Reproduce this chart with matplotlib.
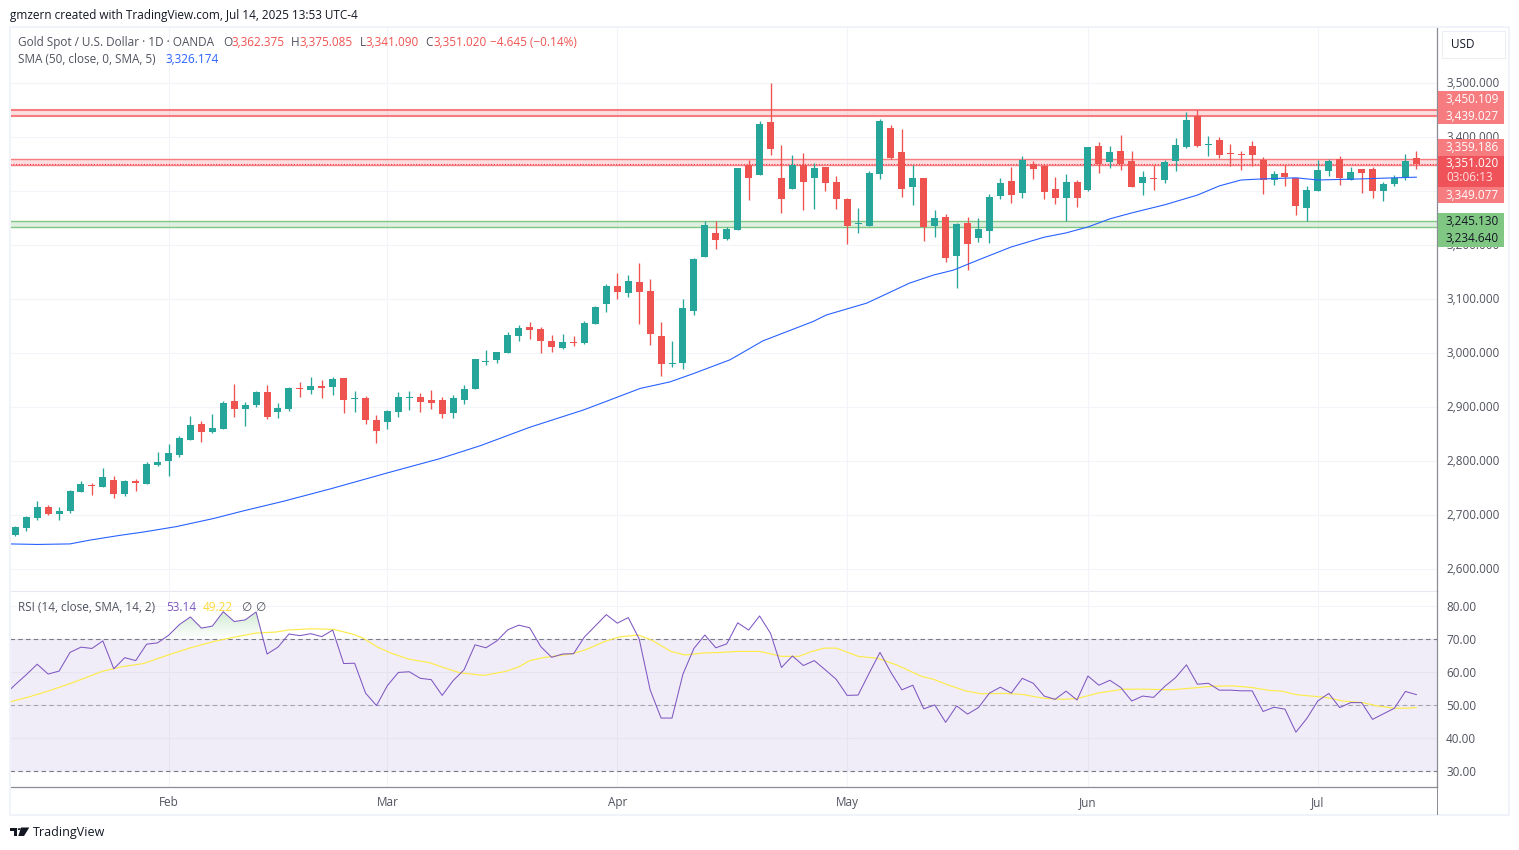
import numpy as np
import matplotlib
matplotlib.use('Agg')
import matplotlib.pyplot as plt
from matplotlib.patches import Rectangle, Polygon, Circle

opens = [2663, 2676, 2695, 2715, 2702, 2708, 2743, 2756, 2752, 2765,
         2739, 2763, 2758, 2793, 2800, 2812, 2839, 2869, 2854, 2860,
         2912, 2897, 2904, 2928, 2891, 2897, 2936, 2932, 2939, 2937,
         2954, 2915, 2917, 2876, 2873, 2891, 2917, 2919, 2913, 2913,
         2889, 2913, 2934, 2984, 2988, 3001, 3032, 3049, 3045, 3023,
         3010, 3021, 3019, 3054, 3091, 3125, 3112, 3132, 3115, 3032,
         2980, 2982, 3078, 3178, 3223, 3212, 3228, 3349, 3330, 3428,
         3325, 3304, 3349, 3325, 3345, 3317, 3286, 3240, 3236, 3332,
         3417, 3373, 3308, 3325, 3236, 3252, 3180, 3241, 3214, 3227,
         3291, 3319, 3297, 3351, 3347, 3304, 3288, 3317, 3302, 3384,
         3354, 3375, 3356, 3315, 3325, 3321, 3356, 3382, 3439, 3386,
         3395, 3371, 3369, 3384, 3358, 3321, 3334, 3325, 3269, 3301,
         3338, 3360, 3321, 3341, 3341, 3301, 3314, 3325, 3362.375]
highs = [2680, 2699, 2726, 2719, 2715, 2747, 2763, 2760, 2787, 2773,
         2765, 2767, 2799, 2817, 2832, 2847, 2884, 2875, 2887, 2912,
         2943, 2910, 2930, 2941, 2908, 2937, 2947, 2956, 2950, 2956,
         2954, 2930, 2921, 2886, 2895, 2928, 2930, 2926, 2932, 2919,
         2923, 2941, 2989, 3006, 3002, 3039, 3052, 3058, 3049, 3034,
         3036, 3032, 3060, 3088, 3128, 3149, 3145, 3167, 3138, 3058,
         3023, 3100, 3176, 3245, 3245, 3234, 3343, 3358, 3430, 3501,
         3386, 3367, 3371, 3352, 3345, 3328, 3288, 3269, 3338, 3434,
         3423, 3415, 3349, 3325, 3265, 3258, 3241, 3252, 3251, 3295,
         3325, 3345, 3365, 3356, 3349, 3327, 3332, 3321, 3382, 3391,
         3384, 3404, 3375, 3338, 3349, 3358, 3399, 3447, 3451, 3402,
         3401, 3388, 3375, 3393, 3364, 3338, 3349, 3325, 3310, 3358,
         3360, 3365, 3345, 3341, 3345, 3317, 3330, 3369, 3375.085]
lows = [2662, 2671, 2691, 2700, 2691, 2704, 2743, 2737, 2752, 2732,
        2736, 2745, 2758, 2791, 2773, 2808, 2839, 2836, 2852, 2860,
        2882, 2865, 2900, 2878, 2880, 2893, 2919, 2925, 2917, 2923,
        2889, 2891, 2869, 2834, 2860, 2882, 2895, 2891, 2897, 2880,
        2880, 2906, 2934, 2978, 2982, 3001, 3023, 3026, 3001, 3002,
        3008, 3013, 3017, 3054, 3076, 3100, 3104, 3054, 3015, 2958,
        2975, 2971, 3071, 3178, 3193, 3210, 3228, 3284, 3330, 3367,
        3260, 3304, 3265, 3267, 3301, 3267, 3202, 3223, 3236, 3323,
        3360, 3290, 3275, 3208, 3215, 3169, 3121, 3154, 3206, 3204,
        3286, 3278, 3288, 3323, 3286, 3277, 3245, 3271, 3301, 3334,
        3343, 3339, 3308, 3293, 3302, 3315, 3338, 3380, 3382, 3365,
        3362, 3347, 3339, 3347, 3295, 3312, 3310, 3256, 3245, 3301,
        3328, 3312, 3321, 3297, 3288, 3282, 3310, 3321, 3341.09]
closes = [2678, 2697, 2715, 2702, 2708, 2745, 2758, 2754, 2771, 2739,
          2763, 2760, 2795, 2799, 2815, 2843, 2867, 2854, 2862, 2908,
          2897, 2904, 2928, 2882, 2899, 2936, 2934, 2939, 2936, 2952,
          2913, 2917, 2876, 2856, 2893, 2919, 2919, 2910, 2908, 2888,
          2917, 2934, 2989, 2986, 3002, 3034, 3047, 3043, 3023, 3012,
          3021, 3019, 3056, 3086, 3125, 3113, 3134, 3113, 3036, 2980,
          2982, 3084, 3175, 3238, 3210, 3230, 3343, 3325, 3425, 3378,
          3286, 3349, 3317, 3343, 3315, 3286, 3236, 3241, 3334, 3430,
          3362, 3304, 3325, 3234, 3251, 3177, 3240, 3202, 3230, 3290,
          3315, 3293, 3358, 3341, 3299, 3288, 3317, 3288, 3382, 3351,
          3373, 3351, 3308, 3327, 3323, 3354, 3386, 3432, 3384, 3388,
          3367, 3369, 3367, 3367, 3321, 3332, 3327, 3273, 3302, 3339,
          3356, 3325, 3336, 3334, 3301, 3314, 3325, 3356, 3351.02]

sma_bar = [-0.5, 2, 5, 6.8, 9.6, 11.7, 14.7, 18.1, 20.8, 24.5, 28.8, 33.9, 38.8, 42.5, 47, 51.9,
           54.9, 57.1, 59.8, 61.9, 65.3, 68.3, 72.9, 74.1, 77.8, 81.7, 83.9, 85.7, 88, 91, 94, 96,
           98, 100, 102, 105, 108, 110, 112, 114, 117, 119, 123, 126, 128]
sma_val = [2647, 2646, 2647, 2654, 2663, 2669, 2679, 2694, 2708, 2726, 2749, 2778, 2805, 2829, 2863,
           2895, 2918, 2935, 2947, 2962, 2988, 3023, 3059, 3071, 3093, 3130, 3145, 3154, 3173, 3197,
           3215, 3223, 3234, 3249, 3260, 3275, 3293, 3310, 3321, 3323, 3325, 3321, 3323, 3325,
           3326.174]

# first value sits one bar left of the visible range
rsi_val = [53.0, 56.2, 59.2, 62.4, 59.4, 60.3, 66.0, 67.6, 67.2, 69.5,
           61.0, 64.4, 63.5, 68.5, 68.9, 71.2, 74.5, 76.8, 73.4, 74.0,
           78.4, 75.4, 75.9, 78.3, 65.5, 67.6, 71.6, 71.1, 71.7, 70.8,
           72.8, 62.6, 62.7, 53.6, 49.8, 55.9, 59.9, 60.1, 58.1, 57.7,
           52.9, 57.4, 60.7, 68.3, 67.4, 69.5, 72.9, 74.3, 73.5, 67.8,
           64.5, 65.5, 65.6, 70.7, 74.1, 77.5, 74.9, 76.6, 70.1, 54.6,
           46.0, 46.0, 59.4, 67.2, 71.3, 67.4, 68.6, 75.0, 72.8, 77.1,
           71.8, 61.4, 64.9, 62.0, 63.5, 60.7, 57.8, 52.9, 53.0, 59.6,
           66.0, 59.9, 54.6, 56.0, 48.8, 50.0, 44.7, 49.7, 47.2, 49.2,
           53.6, 55.4, 53.6, 58.1, 56.6, 52.7, 51.7, 54.2, 51.5, 58.8,
           56.0, 57.5, 55.3, 51.2, 52.7, 52.3, 55.6, 58.3, 62.2, 56.3,
           56.6, 54.5, 54.5, 54.3, 54.3, 48.0, 49.3, 48.7, 41.7, 45.9,
           51.2, 53.5, 49.2, 50.7, 50.7, 45.6, 47.3, 49.0, 54.1, 53.14]

rsi_ma_bar = [-0.4, 1.3, 3, 5, 6.3, 8, 9.7, 11.7, 13.6, 15.9, 18.1, 19.8, 22, 23.8, 24.9, 27, 29.1,
              30.9, 31.8, 33.1, 34.4, 36, 37.8, 39.3, 40.6, 42.8, 44.8, 46, 47, 48.4, 50.8, 52.1,
              53.9, 55.2, 56.9, 58.1, 59.9, 61.2, 62.8, 64.5, 65.9, 68, 70, 71.6, 72.7, 73.9, 75,
              75.9, 77, 78.8, 80.5, 82.8, 83.9, 85.2, 86.8, 88.2, 90.4, 92, 94, 95.8, 97.1, 98.9,
              101.2, 103, 105.6, 107.4, 109.4, 111.2, 113, 114.6, 115.7, 117.1, 119.7, 121.3,
              123.1, 124.4, 126, 127.1, 128]
rsi_ma_val = [51.0, 52.5, 54.2, 56.5, 58.1, 60.3, 61.6, 62.6, 64.8, 67.3, 69.3, 70.5, 71.9, 72.2,
              72.8, 73.2, 73.0, 71.5, 70.3, 67.6, 65.7, 63.9, 62.9, 61.2, 59.8, 59.0, 60.2, 61.6,
              63.5, 64.5, 65.5, 66.8, 69.4, 70.7, 71.3, 69.8, 66.3, 65.2, 65.8, 66.0, 66.3, 66.3,
              64.8, 64.8, 66.2, 67.3, 67.3, 66.2, 64.8, 64.2, 62.2, 58.7, 57.8, 56.1, 54.3, 53.4,
              53.5, 53.2, 52.0, 51.7, 52.0, 53.6, 54.8, 54.8, 54.6, 55.1, 55.7, 55.8, 55.3, 54.4,
              54.2, 53.1, 52.3, 51.2, 50.7, 49.7, 49.0, 49.0, 49.22]

month_names = ['Feb', 'Mar', 'Apr', 'May', 'Jun', 'Jul']
month_bars = [14, 34, 55, 76, 98, 119]
price_ticks = [2600, 2700, 2800, 2900, 3000, 3100, 3200, 3300, 3400, 3500]
rsi_ticks = [30, 40, 50, 60, 70, 80]
red_zone = [3439.027, 3450.109]
mid_zone = [3349.077, 3359.186]
green_zone = [3234.640, 3245.130]
last_close = 3351.020

W, H = 1519, 850
FONT = ['Open Sans', 'DejaVu Sans']
TEXT = '#50535e'
GREEN = '#26a69a'
RED = '#ef5350'
GRID = '#f3f4f9'
plt.rcParams['font.family'] = FONT

fig = plt.figure(figsize=(W / 100, H / 100), dpi=100, facecolor='white')


def fx(x):
    return x / W


def fy(y):
    return 1 - y / H


def label(x, y, s, color=TEXT, size=8.5, ha='left', **kw):
    fig.text(fx(x), fy(y + 0.8), s, color=color, fontsize=size, ha=ha, va='center', **kw)


def box(x0, y0, x1, y1, color, edge='none', lw=0):
    fig.patches.append(Rectangle((fx(x0), fy(y1)), (x1 - x0) / W, (y1 - y0) / H, transform=fig.transFigure,
                                 facecolor=color, edgecolor=edge, linewidth=lw, figure=fig))


# outer frame
for rect in [(9, 26, 1510, 28), (9, 814, 1510, 816), (9, 26, 11, 816), (1508, 26, 1510, 816)]:
    box(*rect, '#f0f3fa')

ax = fig.add_axes([fx(10), fy(591), 1427 / W, 564 / H])
rsi_ax = fig.add_axes([fx(10), fy(787), 1427 / W, 196 / H])
xlim = (-0.484, 129.89)

# price pane
opens, highs, lows, closes = map(np.array, (opens, highs, lows, closes))
bars = np.arange(len(opens))
colors = [GREEN if c >= o else RED for o, c in zip(opens, closes)]
ax.vlines(bars, lows, highs, colors=colors, linewidth=0.95, zorder=4)
ax.bar(bars, np.abs(closes - opens), bottom=np.minimum(opens, closes), width=0.64, color=colors, zorder=5)
ax.plot(sma_bar, sma_val, color='#2962ff', lw=0.8, zorder=6)

ax.axhspan(red_zone[0], red_zone[1], color='#f77c80', alpha=0.25, lw=0, zorder=1)
ax.axhspan(mid_zone[0], mid_zone[1], color='#f77c80', alpha=0.25, lw=0, zorder=1)
ax.axhspan(green_zone[0], green_zone[1], color='#81c784', alpha=0.25, lw=0, zorder=1)
for v in red_zone:
    ax.axhline(v, color='#f77c80', lw=1.5, zorder=2)
for v in mid_zone:
    ax.axhline(v, color='#f77c80', lw=1.0, zorder=2)
for v in green_zone:
    ax.axhline(v, color='#81c784', lw=1.0, zorder=2)
ax.axhline(last_close, color='#f23645', lw=0.8, ls=(0, (1, 1.5)), zorder=3)

ax.set_xlim(*xlim)
ax.set_ylim(2559.8, 3604.3)
ax.set_yticks(price_ticks)
# 3,300 is fully covered by the price labels in the reference
ax.set_yticklabels(['' if p == 3300 else f'{p:,.3f}' for p in price_ticks], color=TEXT, fontsize=8.5)
ax.yaxis.tick_right()
ax.tick_params(axis='y', length=0, pad=6.5)
ax.set_xticks(month_bars)
ax.tick_params(axis='x', length=0, labelbottom=False)
ax.grid(True, color=GRID, lw=0.8)
ax.set_axisbelow(True)
for t in ax.get_yticklabels():
    t.set_va('center')

# rsi pane
rsi_x = np.arange(-1, len(rsi_val) - 1)
rsi_val = np.array(rsi_val)
rsi_ax.axhspan(30, 70, color='#7e57c2', alpha=0.1, lw=0, zorder=1)
for v, a in [(70, 1), (50, 0.6), (30, 1)]:
    rsi_ax.axhline(v, color='#787b86', lw=0.8, ls=(0, (4, 3)), alpha=a, zorder=3)

# overbought area fades towards the 70 line
fine_x = np.linspace(rsi_x[0], rsi_x[-1], 6000)
fine_y = np.interp(fine_x, rsi_x, rsi_val)
shade = rsi_ax.fill_between(fine_x, 70, fine_y, where=fine_y > 70, color='none', lw=0)
grad = np.zeros((64, 2, 4))
grad[..., 0:3] = matplotlib.colors.to_rgb('#4caf50')
grad[..., 3] = np.linspace(0.28, 0.0, 64)[:, None]
img = rsi_ax.imshow(grad, extent=(xlim[0], xlim[1], 70, 79), origin='upper', aspect='auto', zorder=2,
                    interpolation='bilinear')
img.set_clip_path(shade.get_paths()[0], transform=rsi_ax.transData)

rsi_ax.plot(rsi_ma_bar, rsi_ma_val, color='#fdeb4b', lw=0.85, zorder=4)
rsi_ax.plot(rsi_x, rsi_val, color='#7e57c2', lw=0.75, zorder=5)

rsi_ax.set_xlim(*xlim)
rsi_ax.set_ylim(25.0, 84.7)
rsi_ax.set_yticks(rsi_ticks)
rsi_ax.set_yticklabels([f'{v:.2f}' for v in rsi_ticks], color=TEXT, fontsize=8.5)
rsi_ax.yaxis.tick_right()
rsi_ax.tick_params(axis='y', length=0, pad=6.5)
rsi_ax.set_xticks(month_bars)
rsi_ax.set_xticklabels(month_names, color=TEXT, fontsize=8.5)
rsi_ax.tick_params(axis='x', length=0, pad=6.5)
rsi_ax.grid(True, color=GRID, lw=0.8)
rsi_ax.set_axisbelow(True)

for a in (ax, rsi_ax):
    for side in ('top', 'left', 'bottom', 'right'):
        a.spines[side].set_visible(False)
    a.patch.set_alpha(0)
rsi_ax.spines['right'].set_visible(True)
ax.spines['right'].set_visible(True)
rsi_ax.spines['bottom'].set_visible(True)
for s in (ax.spines['right'], rsi_ax.spines['right'], rsi_ax.spines['bottom']):
    s.set_color('#8a8d96')
    s.set_linewidth(0.9)
ax.spines['bottom'].set_visible(True)
ax.spines['bottom'].set_color('#e6e8ef')
ax.spines['bottom'].set_linewidth(0.8)

# tail of the price axis line under the time axis
box(1437, 787, 1438, 815, '#8a8d96')

# price labels on the scale
WHITE = 'white'
for y0, y1, txt in [(91, 108, '3,450.109'), (108, 124, '3,439.027'), (139, 156, '3,359.186'),
                    (187, 203, '3,349.077')]:
    box(1438, y0, 1504, y1, '#f77c80')
    label(1472.5, (y0 + y1) / 2 - 0.5, txt, color=WHITE, ha='center')
box(1438, 156, 1504, 187, '#f0525a')
label(1472.5, 163, f'{last_close:,.3f}', color=WHITE, ha='center')
label(1446, 177, '03:06:13', color='#fde0e0')
for y0, y1, txt in [(213, 230, '3,245.130'), (230, 247, '3,234.640')]:
    box(1438, y0, 1504, y1, '#81c784')
    label(1472.5, (y0 + y1) / 2 - 0.5, txt, color='#131722', ha='center')

box(1441.5, 31.5, 1504.5, 57.5, WHITE, edge='#eceef3', lw=0.8)
label(1451, 44, 'USD', color='#131722', size=8.5)

# header and legends
label(10, 15, 'gmzern created with TradingView.com, Jul 14, 2025 13:53 UTC-4', color='#131722')
label(18, 42, 'Gold Spot / U.S. Dollar · 1D · OANDA')
for x, s, c in [(223, 'O', TEXT), (232, '3,362.375', RED), (291, 'H', TEXT), (300, '3,375.085', RED),
                (360, 'L', TEXT), (366, '3,341.090', RED), (425, 'C', TEXT), (433, '3,351.020', RED),
                (490, '−4.645 (−0.14%)', RED)]:
    label(x, 42, s, color=c)
label(18, 59, 'SMA (50, close, 0, SMA, 5)')
label(165, 59, '3,326.174', color='#2962ff')
label(18, 607, 'RSI (14, close, SMA, 14, 2)')
label(166, 607, '53.14', color='#7e57c2')
label(203, 607, '49.22', color='#fdd835')
label(241, 607, '∅')
label(255, 607, '∅')

# logo
logo = '#131722'
box(10, 827.5, 17, 830.5, logo)
box(13.5, 830.5, 17, 836, logo)
fig.patches.append(Circle((fx(19.2), fy(829.1)), 1.6 / W, transform=fig.transFigure, facecolor=logo,
                          edgecolor='none', figure=fig))
fig.patches.append(Polygon([(fx(21), fy(827.5)), (fx(29.3), fy(827.5)), (fx(24), fy(836)), (fx(18.3), fy(836))],
                           closed=True, transform=fig.transFigure, facecolor=logo, edgecolor='none', figure=fig))
label(33, 832, 'TradingView', color='#131722', size=9)

fig.savefig('out.png', dpi=100)
